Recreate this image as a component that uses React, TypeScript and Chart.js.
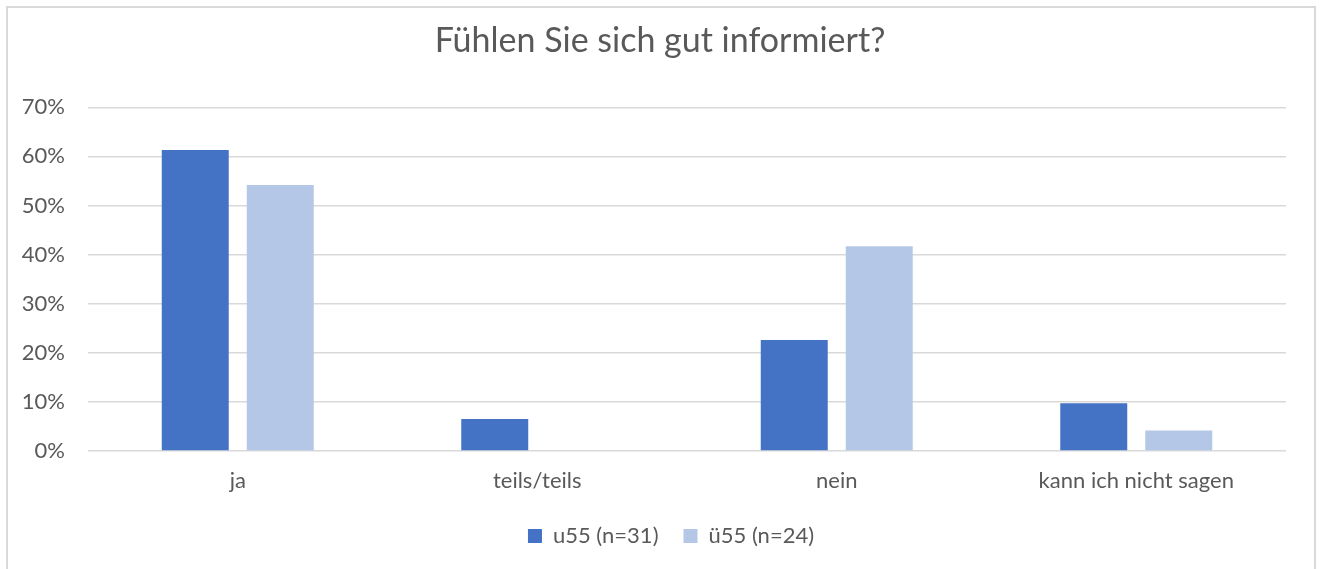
import React, { useEffect, useRef } from "react";
import { Chart, registerables } from "chart.js";

Chart.register(...registerables);

const categories = ["ja", "teils/teils", "nein", "kann ich nicht sagen"];
const seriesNames = ["u55 (n=31)", "ü55 (n=24)"];
const u55Values = [61.3, 6.5, 22.6, 9.7];
const ue55Values = [54.2, 0, 41.7, 4.2];
const yTicks = [0, 10, 20, 30, 40, 50, 60, 70];
const titleText = "Fühlen Sie sich gut informiert?";

const FONT = "Lato, 'Open Sans', sans-serif";
const TEXT = "#595959";
const GRID = "#D9D9D9";

const borderPlugin = {
  id: "frameBorder",
  beforeDraw(chart: any) {
    const ctx = chart.ctx;
    ctx.save();
    ctx.fillStyle = "#ffffff";
    ctx.fillRect(0, 0, chart.width, chart.height);
    ctx.strokeStyle = GRID;
    ctx.lineWidth = 2;
    ctx.strokeRect(7, 7, 1308, 600);
    ctx.restore();
  },
};

// Centre title and legend on the whole frame rather than the plot width
const centerShiftPlugin = {
  id: "centerShift",
  afterLayout(chart: any) {
    const t = chart.titleBlock;
    if (t) {
      t.left += 17;
      t.right += 17;
    }
    const l = chart.legend;
    if (l) {
      l.left += 28;
      l.right += 28;
    }
  },
};

export default function App() {
  const ref = useRef<HTMLCanvasElement | null>(null);

  useEffect(() => {
    if (!ref.current) return;
    const chart = new Chart(ref.current, {
      type: "bar",
      data: {
        labels: categories,
        datasets: [
          {
            label: seriesNames[0],
            data: u55Values,
            backgroundColor: "#4472C4",
            borderWidth: 0,
            categoryPercentage: 0.5676,
            barPercentage: 0.788,
          },
          {
            label: seriesNames[1],
            data: ue55Values,
            backgroundColor: "#B4C7E7",
            borderWidth: 0,
            categoryPercentage: 0.5676,
            barPercentage: 0.788,
          },
        ],
      },
      options: {
        animation: false,
        responsive: false,
        maintainAspectRatio: false,
        layout: { padding: { left: 0, right: 34, top: 0, bottom: 12 } },
        plugins: {
          title: {
            display: true,
            text: titleText,
            color: TEXT,
            font: { family: FONT, size: 34, weight: "normal" },
            padding: { top: 21, bottom: 45.5 },
          },
          legend: {
            display: true,
            position: "bottom",
            labels: {
              color: TEXT,
              font: { family: FONT, size: 22 },
              boxWidth: 14,
              boxHeight: 14,
              padding: 25,
            },
          },
          tooltip: { enabled: false },
        },
        scales: {
          x: {
            afterFit: (scale: any) => {
              scale.height = 49;
            },
            grid: { display: false, drawTicks: false },
            border: { display: false },
            ticks: {
              color: TEXT,
              font: { family: FONT, size: 22 },
              padding: 17,
              maxRotation: 0,
            },
          },
          y: {
            min: 0,
            max: 70,
            afterFit: (scale: any) => {
              scale.width = 88;
            },
            afterBuildTicks: (scale: any) => {
              scale.ticks = yTicks.map((v) => ({ value: v }));
            },
            grid: { color: GRID, lineWidth: 1.5, drawTicks: false },
            border: { display: false },
            ticks: {
              color: TEXT,
              font: { family: FONT, size: 22 },
              padding: 23,
              callback: (v: any) => v + "%",
            },
          },
        },
      },
      plugins: [borderPlugin, centerShiftPlugin],
    });
    return () => chart.destroy();
  }, []);

  return (
    <div style={{ position: "absolute", left: 0, top: 0, width: 1320, height: 569 }}>
      <canvas ref={ref} width={1320} height={569} style={{ display: "block" }} />
    </div>
  );
}
